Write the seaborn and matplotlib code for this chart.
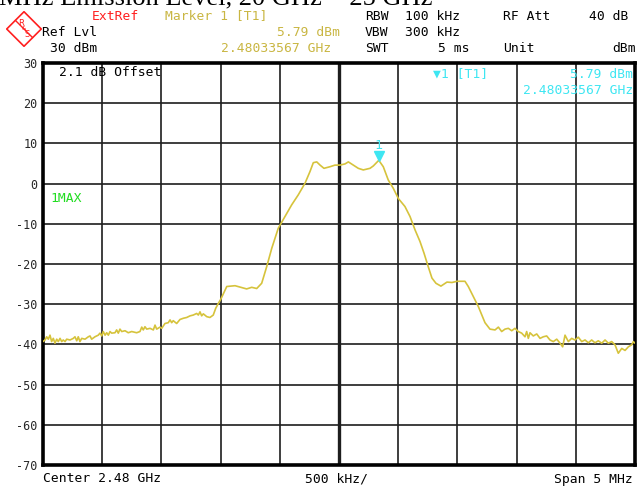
import matplotlib
matplotlib.use("Agg")
import matplotlib.pyplot as plt
import pandas as pd
import seaborn as sns
from matplotlib.patches import Polygon

# Trace 1 (max hold): frequency offset from centre in MHz, level in dBm
offset_mhz = [
    -2.500, -2.483, -2.469, -2.455, -2.441, -2.427, -2.413, -2.399, -2.384, -2.371,
    -2.356, -2.342, -2.329, -2.314, -2.300, -2.272, -2.244, -2.230, -2.215, -2.202,
    -2.188, -2.173, -2.145, -2.117, -2.103, -2.089, -2.061, -2.033, -2.019, -2.004,
    -1.991, -1.976, -1.962, -1.948, -1.934, -1.920, -1.892, -1.878, -1.864, -1.850,
    -1.835, -1.807, -1.780, -1.751, -1.709, -1.681, -1.666, -1.653, -1.639, -1.624,
    -1.596, -1.568, -1.554, -1.540, -1.512, -1.497, -1.470, -1.442, -1.427, -1.413,
    -1.400, -1.371, -1.343, -1.315, -1.286, -1.258, -1.231, -1.202, -1.188, -1.174,
    -1.160, -1.146, -1.117, -1.090, -1.062, -1.041, -1.019, -0.999, -0.948, -0.878,
    -0.780, -0.737, -0.695, -0.653, -0.611, -0.568, -0.513, -0.456, -0.400, -0.344,
    -0.287, -0.245, -0.217, -0.188, -0.160, -0.127, -0.076, -0.034, 0.008, 0.051,
    0.079, 0.121, 0.163, 0.205, 0.262, 0.290, 0.336, 0.374, 0.416, 0.459,
    0.501, 0.557, 0.600, 0.642, 0.684, 0.718, 0.754, 0.785, 0.819, 0.861,
    0.912, 0.954, 0.997, 1.064, 1.092, 1.134, 1.177, 1.233, 1.275, 1.318,
    1.346, 1.374, 1.402, 1.430, 1.459, 1.486, 1.514, 1.543, 1.571, 1.585,
    1.599, 1.613, 1.641, 1.670, 1.698, 1.726, 1.754, 1.782, 1.810, 1.839,
    1.867, 1.889, 1.909, 1.937, 1.965, 1.993, 2.021, 2.050, 2.078, 2.106,
    2.134, 2.162, 2.190, 2.219, 2.247, 2.275, 2.303, 2.331, 2.359, 2.388,
    2.416, 2.444, 2.472, 2.486, 2.500,
]
level_dbm = [
    -39.3, -38.9, -38.1, -38.7, -37.7, -39.3, -38.5, -39.7, -38.7, -39.3,
    -38.5, -39.3, -38.9, -39.3, -38.7, -38.9, -38.5, -38.1, -39.1, -38.1,
    -39.3, -38.5, -38.7, -38.1, -37.9, -38.7, -38.1, -37.7, -37.2, -37.9,
    -36.8, -37.7, -37.1, -37.7, -36.8, -37.2, -37.1, -36.4, -37.2, -36.2,
    -36.8, -36.6, -37.1, -36.8, -37.1, -36.8, -35.7, -36.4, -35.6, -36.2,
    -36.0, -36.4, -35.2, -36.2, -35.7, -36.0, -34.8, -34.6, -33.9, -34.6,
    -34.1, -34.8, -33.8, -33.5, -33.3, -32.9, -32.7, -32.3, -32.7, -31.9,
    -32.9, -32.4, -33.1, -33.3, -32.7, -31.0, -29.8, -28.8, -25.6, -25.4,
    -26.2, -25.8, -26.1, -24.8, -20.7, -16.1, -11.1, -8.2, -5.3, -2.8,
    0.1, 3.0, 5.2, 5.4, 4.6, 3.8, 4.2, 4.6, 4.6, 4.9,
    5.4, 4.6, 3.8, 3.4, 3.8, 4.4, 5.79, 4.2, 0.9, -1.2,
    -3.7, -5.7, -8.2, -11.5, -14.4, -17.3, -20.7, -23.5, -24.8, -25.5,
    -24.5, -24.6, -24.3, -24.3, -25.6, -28.1, -30.6, -34.6, -36.2, -36.4,
    -35.7, -36.8, -36.2, -36.0, -36.6, -36.0, -36.8, -37.2, -38.1, -36.8,
    -38.5, -37.1, -37.9, -37.4, -38.5, -38.1, -37.9, -38.9, -39.3, -38.7,
    -39.7, -40.6, -37.7, -39.3, -38.5, -38.9, -38.2, -39.3, -38.9, -39.6,
    -38.9, -39.6, -39.1, -39.7, -38.9, -39.7, -39.3, -40.1, -42.2, -41.0,
    -41.5, -40.6, -40.1, -39.3, -39.7,
]

marker_offset_mhz = 0.33567
marker_dbm = 5.79
y_ticks = [30, 20, 10, 0, -10, -20, -30, -40, -50, -60, -70]
x_grid_mhz = [-2.5, -2.0, -1.5, -1.0, -0.5, 0.0, 0.5, 1.0, 1.5, 2.0, 2.5]

TRACE = "#d6c33c"
LABEL_YEL = "#c9b642"
CYAN = "#3ee6f2"
RED = "#ff1f1f"
GREEN = "#22dd22"
MONO = "DejaVu Sans Mono"

sns.set_style("white")
W, H = 639, 487
fig = plt.figure(figsize=(W / 100, H / 100), dpi=100)


def fx(x):
    return x / W


def fy(y):
    return 1 - y / H


def put(x, y, s, color="black", ha="left", size=9.4, **kw):
    fig.text(fx(x), fy(y), s, color=color, ha=ha, va="center",
             family=MONO, fontsize=size, **kw)


ax = fig.add_axes([fx(43), fy(465), (635 - 43) / W, (465 - 63) / H])
df = pd.DataFrame({"offset": offset_mhz, "level": level_dbm})
sns.lineplot(data=df, x="offset", y="level", ax=ax, color=TRACE,
             linewidth=1.2, estimator=None, sort=False, zorder=3)

ax.set_xlim(-2.5, 2.5)
ax.set_ylim(-70, 30)
for gx in x_grid_mhz:
    ax.axvline(gx, color="#1e1e1e", lw=2.4 if gx == 0 else 1.2, zorder=1)
for gy in y_ticks:
    ax.axhline(gy, color="#1e1e1e", lw=1.2, zorder=1)
ax.set_xticks([])
ax.set_yticks(y_ticks)
ax.set_yticklabels([str(v) for v in y_ticks], family=MONO, fontsize=8.5)
ax.tick_params(axis="y", length=3, width=1, pad=1, color="black")
ax.set_xlabel("")
ax.set_ylabel("")
for side in ax.spines.values():
    side.set_color("black")
    side.set_linewidth(2.6)

# marker 1
ax.plot([marker_offset_mhz], [marker_dbm + 1.0], marker="v", color=CYAN,
        markersize=7, zorder=4)
ax.text(marker_offset_mhz, marker_dbm + 3.6, "1", color=CYAN, ha="center",
        va="center", family=MONO, fontsize=9.5)

# in-graph annotations
put(59, 72, "2.1 dB Offset")
put(50, 199, "1MAX", color=GREEN)
put(433, 74, "\u25bc1 [T1]", color=CYAN)
put(633, 74, f"{marker_dbm:.2f} dBm", color=CYAN, ha="right")
put(633, 91, f"{2.48 + marker_offset_mhz / 1000:.8f} GHz", color=CYAN, ha="right")

# header
put(92, 16, "ExtRef", color=RED)
put(165, 16, "Marker 1 [T1]", color=LABEL_YEL)
put(42, 32, "Ref Lvl")
put(340, 32, f"{marker_dbm:.2f} dBm", color=LABEL_YEL, ha="right")
put(50, 48, "30 dBm")
put(331, 48, f"{2.48 + marker_offset_mhz / 1000:.8f} GHz", color=LABEL_YEL, ha="right")
put(365, 16, "RBW")
put(405, 16, "100 kHz")
put(503, 16, "RF Att")
put(628, 16, "40 dB", ha="right")
put(365, 32, "VBW")
put(405, 32, "300 kHz")
put(365, 48, "SWT")
put(470, 48, "5 ms", ha="right")
put(503, 48, "Unit")
put(636, 48, "dBm", ha="right")

# footer
put(43, 479, "Center 2.48 GHz")
put(305, 479, "500 kHz/")
put(633, 479, "Span 5 MHz", ha="right")

# page title running off the top edge
fig.text(fx(-1), fy(4), "MHz Emission Level, 20 GHz ~ 25 GHz",
         family="Liberation Serif", fontsize=19, color="black",
         ha="left", va="baseline")

# instrument logo
logo = fig.add_axes([fx(6), fy(47), 36 / W, 36 / H])
logo.set_xlim(0, 1)
logo.set_ylim(0, 1)
logo.axis("off")
logo.add_patch(Polygon([[0.5, 0.98], [0.98, 0.5], [0.5, 0.02], [0.02, 0.5]],
                       closed=True, fill=False, edgecolor=RED, lw=1.2))
logo.plot([0.26, 0.74], [0.74, 0.26], color=RED, lw=1.0)
logo.text(0.42, 0.66, "R", color=RED, fontsize=6, ha="center", va="center")
logo.text(0.58, 0.34, "S", color=RED, fontsize=6, ha="center", va="center")
logo.text(0.5, 0.5, "&", color=RED, fontsize=4, ha="center", va="center")

fig.savefig("out.png", dpi=100)
